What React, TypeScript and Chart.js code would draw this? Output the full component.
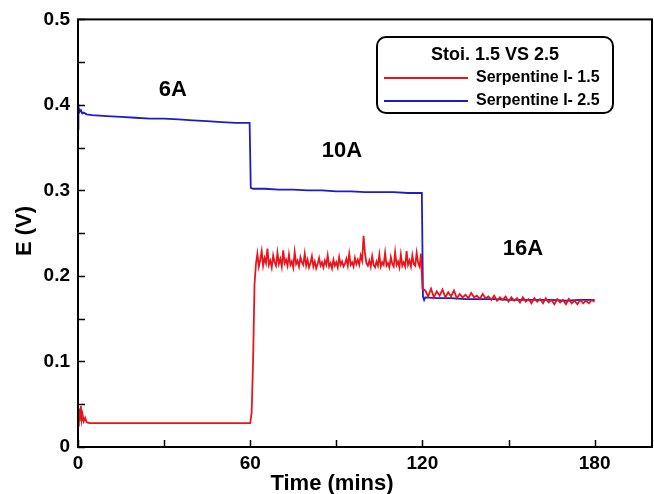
import React, { useEffect, useRef } from "react";
import { Chart, registerables } from "chart.js";
Chart.register(...registerables);

const FONT = "'Liberation Sans', Arial, Helvetica, sans-serif";

const seriesNames = ["Serpentine I- 1.5", "Serpentine I- 2.5"];
const legendTitle = "Stoi. 1.5 VS 2.5";
const xTitle = "Time (mins)";
const yTitle = "E (V)";

// Red series: start-up and 6A plateau (explicit times)
const redTimeA = [0, 0.3, 0.6, 1, 1.3, 1.6, 2, 2.5, 3, 4, 6, 10, 20, 30, 40, 50, 60, 60.5, 61, 61.5];
const redEA = [0.025, 0.045, 0.03, 0.048, 0.032, 0.038, 0.03, 0.034, 0.029, 0.028, 0.028, 0.028, 0.028, 0.028, 0.028, 0.028, 0.028, 0.04, 0.1, 0.19];
// Red series: 10A plateau, sampled every 0.5 min from 62 min
const redStartB = 62;
const redStepB = 0.5;
const redEB = [
  0.214, 0.226, 0.211, 0.219, 0.229, 0.212, 0.221, 0.215, 0.232, 0.213,
  0.218, 0.210, 0.224, 0.216, 0.212, 0.227, 0.214, 0.220, 0.211, 0.230,
  0.215, 0.219, 0.212, 0.225, 0.213, 0.217, 0.210, 0.228, 0.214, 0.218,
  0.211, 0.222, 0.216, 0.213, 0.226, 0.212, 0.219, 0.210, 0.215, 0.223,
  0.211, 0.217, 0.209, 0.214, 0.221, 0.212, 0.216, 0.210, 0.218, 0.213,
  0.224, 0.211, 0.215, 0.209, 0.219, 0.212, 0.216, 0.210, 0.222, 0.213,
  0.217, 0.211, 0.214, 0.220, 0.212, 0.226, 0.213, 0.216, 0.211, 0.221,
  0.214, 0.219, 0.213, 0.224, 0.218, 0.247, 0.226, 0.215, 0.212, 0.218,
  0.211, 0.223, 0.213, 0.210, 0.217, 0.212, 0.225, 0.211, 0.216, 0.213,
  0.227, 0.212, 0.215, 0.210, 0.222, 0.214, 0.211, 0.228, 0.213, 0.217,
  0.210, 0.225, 0.212, 0.216, 0.211, 0.229, 0.213, 0.218, 0.211, 0.224,
  0.214, 0.212, 0.227, 0.215, 0.211, 0.226,
];
// Red series: 16A plateau, sampled every 1 min from 120 min
const redStartC = 120;
const redStepC = 1;
const redEC = [
  0.185, 0.183, 0.176, 0.185, 0.175, 0.182, 0.177, 0.184, 0.175, 0.181,
  0.176, 0.183, 0.174, 0.179, 0.175, 0.178, 0.174, 0.180, 0.175, 0.177,
  0.173, 0.179, 0.174, 0.176, 0.172, 0.177, 0.171, 0.175, 0.172, 0.176,
  0.170, 0.175, 0.171, 0.174, 0.169, 0.175, 0.170, 0.173, 0.168, 0.174,
  0.170, 0.173, 0.168, 0.174, 0.169, 0.172, 0.167, 0.173, 0.169, 0.172,
  0.167, 0.173, 0.168, 0.171, 0.167, 0.172, 0.168, 0.171, 0.168, 0.172, 0.170,
];

const blueTime = [
  0, 0, 0.3, 0.6, 1, 1.5, 2, 3, 5, 10, 15, 20, 25, 30, 35, 40, 45, 50, 55, 59.8,
  60.2, 61, 65, 70, 75, 80, 85, 90, 95, 100, 105, 110, 115, 119.8, 120.2, 120.6, 121, 125, 130, 135,
  140, 145, 150, 155, 160, 165, 170, 175, 180,
];
const blueE = [
  0.372, 0.401, 0.398, 0.392, 0.394, 0.390, 0.391, 0.389, 0.388, 0.387, 0.386, 0.385, 0.384, 0.384, 0.383, 0.382, 0.381, 0.380, 0.379, 0.379,
  0.303, 0.302, 0.302, 0.301, 0.301, 0.300, 0.300, 0.299, 0.299, 0.298, 0.298, 0.298, 0.297, 0.297, 0.176, 0.172, 0.175, 0.174, 0.174, 0.173,
  0.173, 0.173, 0.172, 0.172, 0.172, 0.172, 0.171, 0.172, 0.172,
];

const xTicks = [0, 30, 60, 90, 120, 150, 180];
const xLabels = [0, 60, 120, 180];
const yTicks = [0, 0.05, 0.1, 0.15, 0.2, 0.25, 0.3, 0.35, 0.4, 0.45, 0.5];
const yLabels = [0, 0.1, 0.2, 0.3, 0.4, 0.5];

const stepNames = ["6A", "10A", "16A"];
const stepTime = [33, 92, 155];
const stepE = [0.418, 0.346, 0.232];

const RED = "#e8161c";
const BLUE = "#1c1ccc";

const redPoints = [
  ...redTimeA.map((t, i) => ({ x: t, y: redEA[i] })),
  ...redEB.map((v, i) => ({ x: redStartB + i * redStepB, y: v })),
  ...redEC.map((v, i) => ({ x: redStartC + i * redStepC, y: v })),
];
const bluePoints = blueTime.map((t, i) => ({ x: t, y: blueE[i] }));

const decorPlugin = {
  id: "decor",
  afterDraw(chart: any) {
    const { ctx, chartArea, scales } = chart;
    const xs = scales.x;
    const ys = scales.y;
    ctx.save();
    ctx.strokeStyle = "#000";
    ctx.lineWidth = 2;
    ctx.strokeRect(chartArea.left, chartArea.top, chartArea.right - chartArea.left, chartArea.bottom - chartArea.top);
    ctx.lineWidth = 1.5;
    ctx.beginPath();
    xTicks.forEach((v) => {
      const px = Math.round(xs.getPixelForValue(v)) + 0.5;
      ctx.moveTo(px, chartArea.bottom);
      ctx.lineTo(px, chartArea.bottom - 7);
    });
    yTicks.forEach((v) => {
      const py = Math.round(ys.getPixelForValue(v)) + 0.5;
      ctx.moveTo(chartArea.left, py);
      ctx.lineTo(chartArea.left + 7, py);
    });
    ctx.stroke();

    ctx.fillStyle = "#000";
    ctx.textAlign = "center";
    ctx.textBaseline = "middle";

    // axis titles
    ctx.font = `bold 22px ${FONT}`;
    ctx.fillText(xTitle, 332, 484);
    ctx.save();
    ctx.translate(25, 231);
    ctx.rotate(-Math.PI / 2);
    ctx.fillText(yTitle, 0, 0);
    ctx.restore();

    // step annotations
    ctx.font = `bold 22px ${FONT}`;
    stepNames.forEach((s, i) => {
      ctx.fillText(s, xs.getPixelForValue(stepTime[i]), ys.getPixelForValue(stepE[i]));
    });

    // legend
    const lx = 377, ly = 37, lw = 236, lh = 76, r = 9;
    ctx.lineWidth = 2;
    ctx.beginPath();
    ctx.moveTo(lx + r, ly);
    ctx.lineTo(lx + lw - r, ly);
    ctx.arcTo(lx + lw, ly, lx + lw, ly + r, r);
    ctx.lineTo(lx + lw, ly + lh - r);
    ctx.arcTo(lx + lw, ly + lh, lx + lw - r, ly + lh, r);
    ctx.lineTo(lx + r, ly + lh);
    ctx.arcTo(lx, ly + lh, lx, ly + lh - r, r);
    ctx.lineTo(lx, ly + r);
    ctx.arcTo(lx, ly, lx + r, ly, r);
    ctx.closePath();
    ctx.fillStyle = "#fff";
    ctx.fill();
    ctx.strokeStyle = "#000";
    ctx.stroke();
    ctx.fillStyle = "#000";
    ctx.font = `bold 18px ${FONT}`;
    ctx.fillText(legendTitle, lx + lw / 2, ly + 18);
    const colors = [RED, BLUE];
    ctx.font = `bold 16px ${FONT}`;
    ctx.textAlign = "left";
    seriesNames.forEach((n, i) => {
      const yy = ly + 41 + i * 23;
      ctx.strokeStyle = colors[i];
      ctx.lineWidth = 1.8;
      ctx.beginPath();
      ctx.moveTo(lx + 7, yy);
      ctx.lineTo(lx + 91, yy);
      ctx.stroke();
      ctx.fillStyle = "#000";
      ctx.fillText(n, lx + 99, yy);
    });
    ctx.restore();
  },
};

export default function App() {
  const ref = useRef<HTMLCanvasElement | null>(null);
  useEffect(() => {
    if (!ref.current) return;
    const chart = new Chart(ref.current, {
      type: "line",
      data: {
        datasets: [
          {
            label: seriesNames[0],
            data: redPoints,
            borderColor: RED,
            borderWidth: 1.8,
            pointRadius: 0,
            tension: 0,
          },
          {
            label: seriesNames[1],
            data: bluePoints,
            borderColor: BLUE,
            borderWidth: 1.8,
            pointRadius: 0,
            tension: 0,
          },
        ],
      },
      plugins: [decorPlugin],
      options: {
        animation: false,
        responsive: false,
        events: [],
        layout: { padding: { left: 0, right: 2, top: 19, bottom: 0 } },
        plugins: { legend: { display: false }, tooltip: { enabled: false } },
        scales: {
          x: {
            type: "linear",
            min: 0,
            max: 200,
            afterBuildTicks: (s: any) => {
              s.ticks = xTicks.map((v) => ({ value: v }));
            },
            afterFit: (s: any) => {
              s.height = 47;
            },
            grid: { display: false, drawTicks: false },
            border: { display: false },
            ticks: {
              autoSkip: false,
              maxRotation: 0,
              padding: 5,
              color: "#000",
              font: { family: FONT, size: 19, weight: "bold" },
              callback: (v: any) => (xLabels.includes(Number(v)) ? String(v) : ""),
            },
            title: { display: false },
          },
          y: {
            type: "linear",
            min: 0,
            max: 0.5,
            afterBuildTicks: (s: any) => {
              s.ticks = yTicks.map((v) => ({ value: v }));
            },
            afterFit: (s: any) => {
              s.width = 78;
            },
            grid: { display: false, drawTicks: false },
            border: { display: false },
            ticks: {
              autoSkip: false,
              padding: 8,
              color: "#000",
              font: { family: FONT, size: 19, weight: "bold" },
              callback: (v: any) => {
                const n = Math.round(Number(v) * 100) / 100;
                return yLabels.some((l) => Math.abs(l - n) < 1e-9) ? String(n) : "";
              },
            },
            title: { display: false },
          },
        },
      },
    } as any);
    return () => chart.destroy();
  }, []);
  return (
    <div style={{ position: "absolute", left: 0, top: 0, width: 654, height: 494, background: "#fff" }}>
      <canvas ref={ref} width={654} height={494} style={{ display: "block" }} />
    </div>
  );
}
